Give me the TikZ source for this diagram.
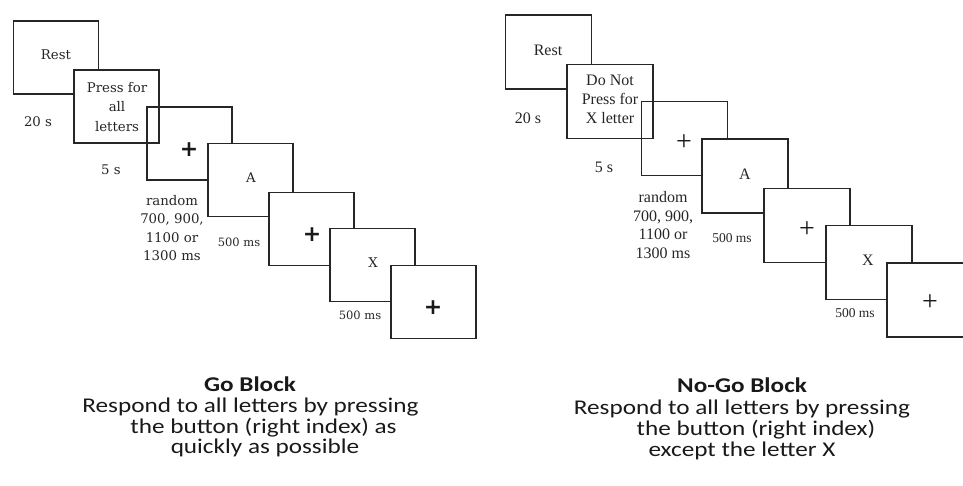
\documentclass[tikz,border=0pt]{standalone}
\usepackage{fontspec}
\setmainfont{Liberation Serif}
\newfontfamily\leftfont{DejaVu Serif}
\newfontfamily\capfont[FakeStretch=1.2]{Carlito}
\newfontfamily\plusfont{DejaVu Sans}
\begin{document}
\begin{tikzpicture}[x=1pt,y=-1pt,
  lbox/.style={draw=black!85,line width=1.6pt,fill=white,minimum width=85pt,minimum height=73pt,inner sep=0pt,outer sep=0pt},
  rbox/.style={draw=black!85,line width=1.4pt,fill=white,minimum width=86pt,minimum height=74pt,inner sep=0pt,outer sep=0pt},
  open/.style={fill=none},
  ltxt/.style={font=\leftfont\fontsize{13.3}{19.5}\selectfont,inner sep=0pt,align=center,text=black!85},
  lsmall/.style={font=\leftfont\fontsize{11.5}{12}\selectfont,inner sep=0pt,text=black!85},
  lplus/.style={font=\plusfont\bfseries\fontsize{22}{22}\selectfont,inner sep=0pt,text=black!90},
  rtxt/.style={font=\fontsize{16}{19}\selectfont,inner sep=0pt,align=center,text=black!85},
  rsmall/.style={font=\fontsize{13.5}{14}\selectfont,inner sep=0pt,text=black!85},
  rplus/.style={font=\fontsize{28}{28}\selectfont,inner sep=0pt,text=black!90},
  captxt/.style={font=\capfont\fontsize{21}{21}\selectfont,inner sep=0pt,anchor=base,text=black!90},
  captitle/.style={captxt,font=\capfont\bfseries\fontsize{21}{21}\selectfont}]
\useasboundingbox (0,0) rectangle (963,486);
\clip (0,0) rectangle (963,486);
% ---- left panel boxes
\node[lbox] (rest1) at (56,57.5) {};
\node[lbox] (press1) at (116.5,106.5) {};
\node[lbox,open] (fixa1) at (189.5,143.5) {};
\node[lbox] (a1) at (250.5,180) {};
\node[lbox] (fixb1) at (311.5,229) {};
\node[lbox] (x1) at (372.5,265) {};
\node[lbox] (fixc1) at (433.5,302) {};
% ---- left panel texts
\node[ltxt] (t-rest1) at (56,55) {Rest};
\node[ltxt] (t-press1) at (117,107) {Press for\\all\\letters};
\node[ltxt] (t-20s1) at (38,122) {20 s};
\node[ltxt] (t-5s1) at (111,170) {5 s};
\node[lplus] (p-a1) at (189,150) {+};
\node[ltxt] (t-a1) at (251,178) {A};
\node[ltxt,font=\leftfont\fontsize{13.3}{18.5}\selectfont] (t-rand1) at (172,228) {random\\700, 900,\\1100 or\\1300 ms};
\node[lsmall] (t-500a1) at (239,242) {500 ms};
\node[lplus] (p-b1) at (312,235) {+};
\node[ltxt] (t-x1) at (373,263) {X};
\node[lsmall] (t-500b1) at (360,315) {500 ms};
\node[lplus] (p-c1) at (433,308) {+};
% ---- right panel boxes
\node[rbox] (rest2) at (548.5,52) {};
\node[rbox] (press2) at (610,101.5) {};
\node[rbox,open] (fixa2) at (684.5,138.5) {};
\node[rbox] (a2) at (745,176) {};
\node[rbox] (fixb2) at (807,225.5) {};
\node[rbox] (x2) at (869,262.5) {};
\node[rbox] (fixc2) at (930,300) {};
% ---- right panel texts
\node[rtxt] (t-rest2) at (548,50) {Rest};
\node[rtxt] (t-press2) at (610,99) {Do Not\\Press for\\X letter};
\node[rtxt] (t-20s2) at (528,118) {20 s};
\node[rtxt] (t-5s2) at (604,167) {5 s};
\node[rplus] (p-a2) at (684,143) {+};
\node[rtxt] (t-a2) at (745,174) {A};
\node[rtxt,font=\fontsize{16}{18.7}\selectfont] (t-rand2) at (663,225) {random\\700, 900,\\1100 or\\1300 ms};
\node[rsmall] (t-500a2) at (732,238) {500 ms};
\node[rplus] (p-b2) at (807,230) {+};
\node[rtxt] (t-x2) at (868,260) {X};
\node[rsmall] (t-500b2) at (855,313) {500 ms};
\node[rplus] (p-c2) at (930,303) {+};
% ---- captions
\node[captitle] (go-title) at (250,391) {Go Block};
\node[captxt] (go-l1) at (250.5,412) {Respond to all letters by pressing};
\node[captxt] (go-l2) at (263.5,433) {the button (right index) as};
\node[captxt] (go-l3) at (265,453) {quickly as possible};
\node[captitle] (ng-title) at (742,392) {No-Go Block};
\node[captxt] (ng-l1) at (742,414) {Respond to all letters by pressing};
\node[captxt] (ng-l2) at (756,435) {the button (right index)};
\node[captxt] (ng-l3) at (742,456) {except the letter X};
\end{tikzpicture}
\end{document}
